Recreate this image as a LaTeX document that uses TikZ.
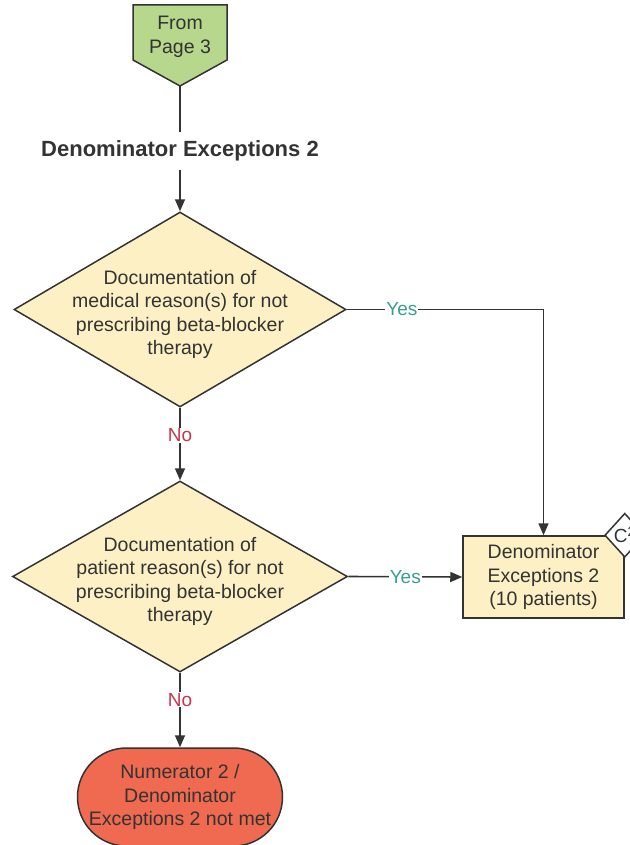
\documentclass[tikz,border=0pt]{standalone}
\usepackage{fontspec}
\setmainfont{Liberation Sans}
\usepackage{tikz}
\usetikzlibrary{arrows.meta,shapes.geometric,positioning,calc}

\definecolor{lineGray}{HTML}{333333}
\definecolor{srcGreen}{HTML}{B6D78C}
\definecolor{decYellow}{HTML}{FCF0C4}
\definecolor{endRed}{HTML}{EF6A50}
\definecolor{yesTeal}{HTML}{3A9E8E}
\definecolor{noRed}{HTML}{C4374F}

\begin{document}
\begin{tikzpicture}[x=1pt,y=-1pt,color=lineGray,line width=1.5pt,
    txt/.style={font=\fontsize{19.5}{23.5}\selectfont,align=center},
    decision/.style={draw,fill=decYellow,diamond,inner sep=0pt},
    flow/.style={line width=1.6pt,-{Triangle[length=12pt,width=10pt]}},
    yeslbl/.style={fill=white,inner sep=1pt,text=yesTeal,font=\fontsize{19}{22}\selectfont},
    nolbl/.style={fill=white,inner sep=1pt,text=noRed,font=\fontsize{19}{22}\selectfont}]
  \useasboundingbox (0,0) rectangle (629,845);

  % off-page connector
  \draw[fill=srcGreen] (133,5) -- (227,5) -- (227,60) -- (180,86) -- (133,60) -- cycle;
  \node[align=center,font=\fontsize{19.5}{24}\selectfont] (src) at (180,37) {From\\Page 3};
  \coordinate (srcTip) at (180,86);

  \node[font=\bfseries\fontsize{22}{25}\selectfont,inner sep=8pt] (title) at (180,151) {Denominator Exceptions 2};

  % decisions
  \node[decision,minimum width=332pt,minimum height=195pt] (medDec) at (180,309.5) {};
  \node[txt,yshift=-5pt] (medTxt) at (medDec) {Documentation of\\medical reason(s) for not\\prescribing beta-blocker\\therapy};
  \node[decision,minimum width=335pt,minimum height=191pt] (patDec) at (180,576.5) {};
  \node[txt,yshift=-5pt] (patTxt) at (patDec) {Documentation of\\patient reason(s) for not\\prescribing beta-blocker\\therapy};

  % outcomes
  \node[draw,fill=decYellow,txt,minimum width=161pt,minimum height=82pt] (exc) at (543.5,577) {Denominator\\Exceptions 2\\(10 patients)};
  \node[draw,fill=white,diamond,inner sep=0pt,minimum width=40pt,minimum height=44pt,font=\fontsize{19}{21}\selectfont] (cTwo) at (exc.north east) {C\textsuperscript{2}};
  \node[draw,fill=endRed,txt,rounded corners=49pt,minimum width=205pt,minimum height=98pt] (notMet) at (180,797) {Numerator 2 /\\Denominator\\Exceptions 2 not met};

  % connectors
  \draw[line width=1.6pt] (srcTip) -- (title.north);
  \draw[flow] (title.south) -- (medDec.north);
  \draw[flow] (medDec.east) -| node[yeslbl,pos=0.14] {Yes} (exc.north);
  \draw[flow] (medDec.south) -- node[nolbl,pos=0.38] {No} (patDec.north);
  \draw[flow] (patDec.east) -- node[yeslbl] {Yes} (exc.west);
  \draw[flow] (patDec.south) -- node[nolbl,pos=0.36] {No} (notMet.north);
\end{tikzpicture}
\end{document}
